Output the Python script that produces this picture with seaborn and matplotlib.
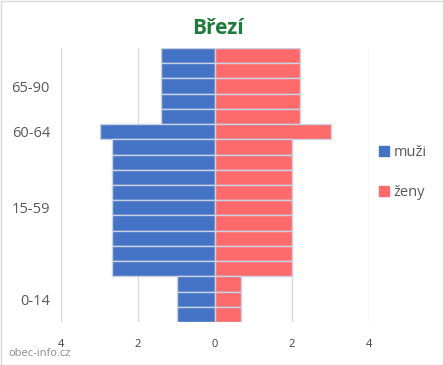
import matplotlib
matplotlib.use("Agg")
import matplotlib.pyplot as plt
import seaborn as sns
import pandas as pd
from matplotlib.patches import Rectangle

# ---- data (rows listed top to bottom) ----
row_groups = (["65-90"] * 5) + ["60-64"] + (["15-59"] * 9) + (["0-14"] * 3)
muzi = [1.4, 1.4, 1.4, 1.4, 1.4,
        3.0,
        2.67, 2.67, 2.67, 2.67, 2.67, 2.67, 2.67, 2.67, 2.67,
        1.0, 1.0, 1.0]
zeny = [2.2, 2.2, 2.2, 2.2, 2.2,
        3.0,
        2.0, 2.0, 2.0, 2.0, 2.0, 2.0, 2.0, 2.0, 2.0,
        0.67, 0.67, 0.67]
group_labels = ["65-90", "60-64", "15-59", "0-14"]
x_ticks = [-4, -2, 0, 2, 4]
x_tick_labels = ["4", "2", "0", "2", "4"]
title = "Březí"
series_names = ["muži", "ženy"]

BLUE = "#4472C4"
RED = "#FF6B6B"
EDGE = "#C9D3E3"

sns.set_theme(style="white")
plt.rcParams["font.family"] = ["Open Sans", "DejaVu Sans"]

row_ids = [f"r{i:02d}" for i in range(len(muzi))]
df = pd.DataFrame({"row": row_ids, "group": row_groups,
                   "muzi": [-v for v in muzi], "zeny": zeny})

fig = plt.figure(figsize=(4.43, 3.65), dpi=100)
ax = fig.add_axes([61 / 443, 1 - 322 / 365, (369 - 61) / 443, (322 - 48) / 365])

sns.barplot(data=df, y="row", x="muzi", order=row_ids, orient="h", color=BLUE,
            saturation=1, width=1.0, edgecolor=EDGE, linewidth=1.0, ax=ax, zorder=2)
sns.barplot(data=df, y="row", x="zeny", order=row_ids, orient="h", color=RED,
            saturation=1, width=1.0, edgecolor=EDGE, linewidth=1.0, ax=ax, zorder=2)

ax.set_xlim(-4, 4)
ax.set_ylim(len(row_ids) - 0.5, -0.5)

# group tick positions at group centres
centers = []
for g in group_labels:
    idx = [i for i, r in enumerate(row_groups) if r == g]
    centers.append(sum(idx) / len(idx))
ax.set_yticks(centers)
ax.set_yticklabels(group_labels, fontsize=10.5, color="#595959")
ax.set_xticks(x_ticks)
ax.set_xticklabels(x_tick_labels, fontsize=8, color="#404040")
ax.tick_params(axis="both", length=0, pad=4)
ax.tick_params(axis="x", pad=12)
ax.tick_params(axis="y", pad=8)
ax.set_xlabel("")
ax.set_ylabel("")

ax.xaxis.grid(True, color="#D9D9D9", linewidth=1.0, zorder=0)
ax.set_axisbelow(True)
for s in ax.spines.values():
    s.set_visible(False)

# legend
handles = [Rectangle((0, 0), 1, 1, color=BLUE), Rectangle((0, 0), 1, 1, color=RED)]
fig.legend(handles, series_names, loc="upper left", bbox_to_anchor=(366 / 443, 1 - 132 / 365),
           frameon=False, fontsize=10.5, handlelength=0.7, handleheight=0.7,
           handletextpad=0.3, labelspacing=1.7, labelcolor="#595959")

fig.text(218 / 443, 1 - 28 / 365, title, ha="center", va="center",
         fontsize=15, fontweight="bold", color="#1E7B3C")
fig.text(8 / 443, 1 - 354 / 365, "obec-info.cz", ha="left", va="center",
         fontsize=8, color="#8C8C8C")

fig.patches.append(Rectangle((0.5 / 443, 0.5 / 365), 1 - 1 / 443, 1 - 1 / 365,
                             transform=fig.transFigure, fill=False,
                             edgecolor="#D9D9D9", linewidth=1))

fig.savefig("out.png", dpi=100, facecolor="white")
